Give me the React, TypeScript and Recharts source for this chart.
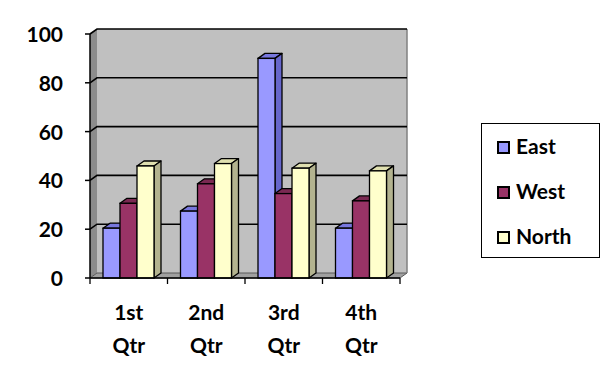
import React from 'react';
import { BarChart, Bar, XAxis, YAxis, Legend, Customized, usePlotArea } from 'recharts';

const categories = ['1st Qtr', '2nd Qtr', '3rd Qtr', '4th Qtr'];
const seriesNames = ['East', 'West', 'North'];
const east = [20.4, 27.4, 90, 20.4];
const west = [30.6, 38.6, 34.6, 31.6];
const north = [45.9, 46.9, 45, 43.9];
const yTicks = [0, 20, 40, 60, 80, 100];
const yMax = 100;

const data = categories.map((name, i) => ({ name, East: east[i], West: west[i], North: north[i] }));

// depth of the fake 3d walls / bars
const DX = 7;
const DY = 5;
const FONT = 'Lato, "Open Sans", sans-serif';

function Walls() {
  const area = usePlotArea();
  if (!area) return null;
  const { x, y, width, height } = area;
  const b = y + height;
  const r = x + width;
  return (
    <g>
      <polygon points={`${x + DX},${y - DY} ${r + DX},${y - DY} ${r + DX},${b - DY} ${x + DX},${b - DY}`} fill="#C0C0C0" />
      <polygon points={`${x},${y} ${x + DX},${y - DY} ${x + DX},${b - DY} ${x},${b}`} fill="#8C8C8C" />
      <polygon points={`${x},${b} ${x + DX},${b - DY} ${r + DX},${b - DY} ${r},${b}`} fill="#A0A0A0" stroke="#5A5A5A" strokeWidth={1} />
      <line x1={r + DX} y1={y - DY} x2={r + DX} y2={b - DY} stroke="#808080" strokeWidth={1.5} />
      {yTicks.filter((v) => v > 0).map((v) => {
        const gy = b - (v / yMax) * height;
        return (
          <path key={v} d={`M${x},${gy} L${x + DX},${gy - DY} L${r + DX},${gy - DY}`} stroke="#000" strokeWidth={1.6} fill="none" />
        );
      })}
    </g>
  );
}

function makeBar(side: string, top: string) {
  return (p: any) => {
    const { x, y, width: w, height: h, fill } = p;
    if (w == null || h == null) return null;
    return (
      <g>
        <polygon points={`${x},${y} ${x + DX},${y - DY} ${x + w + DX},${y - DY} ${x + w},${y}`} fill={top} stroke="#000" strokeWidth={1.3} strokeLinejoin="round" />
        <polygon points={`${x + w},${y} ${x + w + DX},${y - DY} ${x + w + DX},${y + h - DY} ${x + w},${y + h}`} fill={side} stroke="#000" strokeWidth={1.3} strokeLinejoin="round" />
        <rect x={x} y={y} width={w} height={h} fill={fill} stroke="#000" strokeWidth={1.3} />
      </g>
    );
  };
}

function YTick(p: any) {
  const { x, y, payload } = p;
  return (
    <text x={x - 20} y={y + 8} textAnchor="end" fontFamily={FONT} fontWeight={700} fontSize={21} fill="#000">
      {payload.value}
    </text>
  );
}

function XTick(p: any) {
  const { x, y, payload, index } = p;
  const half = payload.offset || 38.75;
  const [a, b] = String(payload.value).split(' ');
  return (
    <g>
      <line x1={x - half} y1={y} x2={x - half} y2={y + 6} stroke="#000" strokeWidth={1.3} />
      {index === categories.length - 1 && (
        <line x1={x + half} y1={y} x2={x + half} y2={y + 6} stroke="#000" strokeWidth={1.3} />
      )}
      <text x={x} y={y + 42} textAnchor="middle" fontFamily={FONT} fontWeight={700} fontSize={21} fill="#000">{a}</text>
      <text x={x} y={y + 75} textAnchor="middle" fontFamily={FONT} fontWeight={700} fontSize={21} fill="#000">{b}</text>
    </g>
  );
}

function LegendBox(props: any) {
  const items = [...(props.payload ?? [])].sort(
    (m: any, n: any) => seriesNames.indexOf(m.value) - seriesNames.indexOf(n.value)
  );
  return (
    <div style={{ position: 'relative', width: 119, height: 135, border: '1.5px solid #000', boxSizing: 'border-box', background: '#fff' }}>
      {items.map((it: any, i: number) => (
        <div key={it.value} style={{ position: 'absolute', left: 0, top: 6 + i * 45, height: 32, width: '100%' }}>
          <span style={{ position: 'absolute', left: 15, top: 11, width: 13, height: 13, boxSizing: 'border-box', border: '2px solid #000', background: it.color }} />
          <span style={{ position: 'absolute', left: 34, top: 0, fontFamily: FONT, fontWeight: 700, fontSize: 21, lineHeight: '32px', color: '#000' }}>
            {it.value}
          </span>
        </div>
      ))}
    </div>
  );
}

export default function App() {
  return (
    <div style={{ position: 'absolute', left: 0, top: 0, width: 602, height: 365, background: '#fff' }}>
      <BarChart width={602} height={365} data={data} margin={{ top: 34, right: 202, bottom: 0, left: 0 }} barCategoryGap={13} barGap={0}>
        <Customized component={<Walls />} />
        <XAxis dataKey="name" height={87} tickSize={0} tickMargin={0} tickLine={false} axisLine={{ stroke: '#000', strokeWidth: 1.5 }} tick={<XTick />} interval={0} />
        <YAxis width={90} domain={[0, yMax]} ticks={yTicks} tickSize={5} tickLine={{ stroke: '#000', strokeWidth: 1.5 }} axisLine={{ stroke: '#000', strokeWidth: 1.5 }} tick={<YTick />} />
        <Bar dataKey="East" fill="#9999FF" isAnimationActive={false} shape={makeBar('#6666CC', '#7777DD')} />
        <Bar dataKey="West" fill="#993366" isAnimationActive={false} shape={makeBar('#6B2347', '#7A2952')} />
        <Bar dataKey="North" fill="#FFFFCC" isAnimationActive={false} shape={makeBar('#B3B38F', '#E0E0B0')} />
        <Legend layout="horizontal" verticalAlign="middle" align="center" itemSorter={null as any} content={<LegendBox />} wrapperStyle={{ left: 481, top: 123, width: 119, height: 135 }} />
      </BarChart>
    </div>
  );
}
